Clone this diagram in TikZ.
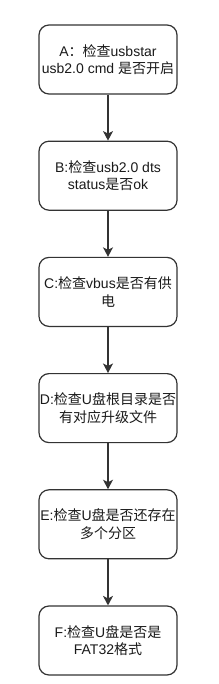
\documentclass[tikz,border=0pt]{standalone}
\usepackage{fontspec}
\setmainfont{Liberation Sans}
\newfontfamily\zhfont{Noto Sans CJK SC}
\newcommand{\zh}[1]{{\zhfont #1}}
\usetikzlibrary{arrows.meta,positioning}
\definecolor{FlowInk}{HTML}{1A1A1A}
\definecolor{FlowLine}{HTML}{333333}
\definecolor{FlowPaper}{HTML}{FFFFFF}
\tikzset{
  every node/.style={font=\fontsize{14}{17.5}\selectfont, text=FlowInk},
  checkbox/.style={draw=FlowLine, line width=1.2pt, fill=FlowPaper, rounded corners=10pt,
    minimum width=138pt, minimum height=69pt, inner sep=0pt, align=center},
  flow/.style={-{Stealth[length=9.5pt,width=10pt,inset=2.5pt]}, draw=FlowLine, line width=1.2pt},
}

\begin{document}
\begin{tikzpicture}[x=1pt,y=-1pt]
  \useasboundingbox (0,0) rectangle (218,684);
  % checks, top to bottom
  \node[checkbox] (chkA) at (108,59.5) {A\zh{：检查}usbstar\\usb2.0 cmd \zh{是否开启}};
  \node[checkbox, below=46pt of chkA] (chkB) {B:\zh{检查}usb2.0 dts\\status\zh{是否}ok};
  \node[checkbox, below=46pt of chkB] (chkC) {C:\zh{检查}vbus\zh{是否有供}\\\zh{电}};
  \node[checkbox, below=46pt of chkC] (chkD) {D:\zh{检查}U\zh{盘根目录是否}\\\zh{有对应升级文件}};
  \node[checkbox, below=46pt of chkD] (chkE) {E:\zh{检查}U\zh{盘是否还存在}\\\zh{多个分区}};
  \node[checkbox, below=46pt of chkE] (chkF) {F:\zh{检查}U\zh{盘是否是}\\FAT32\zh{格式}};
  % arrows between checks
  \foreach \a/\b in {chkA/chkB, chkB/chkC, chkC/chkD, chkD/chkE, chkE/chkF}
    \draw[flow] (\a) -- (\b);
\end{tikzpicture}
\end{document}
